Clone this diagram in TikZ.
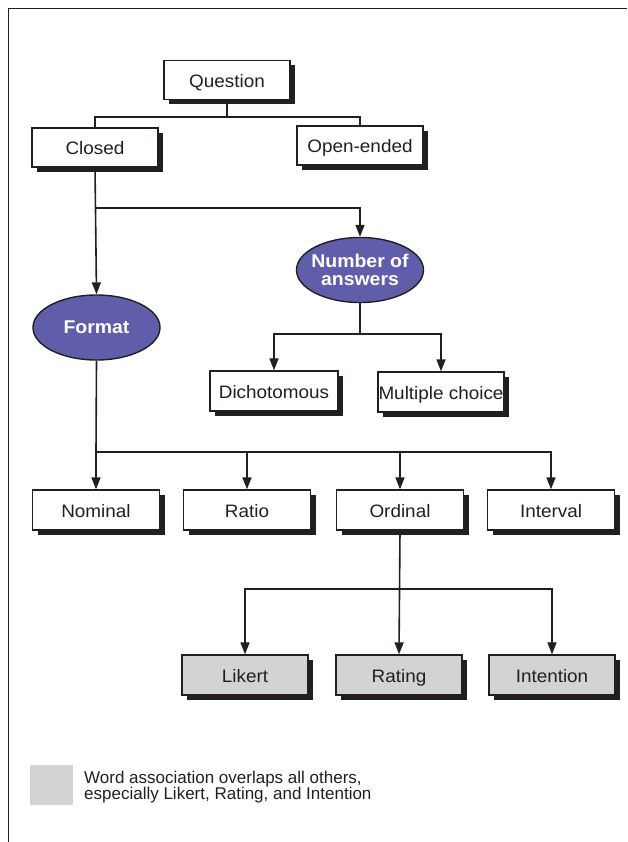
\documentclass[tikz,border=0pt]{standalone}
\usepackage{fontspec}
\setmainfont{Liberation Sans}
\newfontfamily\boxfont[FakeStretch=1.05]{Liberation Sans}
\usetikzlibrary{shapes.geometric,shadows,arrows.meta}
\definecolor{ellblue}{HTML}{605DAB}
\definecolor{boxgray}{HTML}{D3D3D3}
\definecolor{leggray}{HTML}{D1D3D4}
\definecolor{ink}{HTML}{231F20}
\begin{document}
\begin{tikzpicture}[x=1pt,y=-1pt,
 boxn/.style={rectangle, draw=ink, line width=1.4pt, fill=white, text=ink,
   minimum width=126pt, minimum height=39pt, inner sep=0pt,
   text height=15pt, text depth=0pt,
   font=\boxfont\fontsize{18}{20}\selectfont,
   drop shadow={shadow xshift=5pt, shadow yshift=-5pt, fill=ink, opacity=1}},
 grayn/.style={boxn, fill=boxgray},
 elln/.style={ellipse, draw=ink, line width=1.4pt, fill=ellblue,
   minimum width=127pt, minimum height=65pt, inner sep=0pt},
 elltext/.style={text=white, align=center, inner sep=0pt,
   font=\boxfont\fontsize{18.5}{17.5}\bfseries\selectfont},
 conn/.style={line width=1.6pt, draw=ink},
 arr/.style={conn, -{Triangle[length=12pt,width=9pt]}}
]
\useasboundingbox (0,0) rectangle (627,842);
% frame
\draw[line width=1pt, ink] (8,842) -- (8,9) -- (627,9);

% nodes
\node[boxn] (q) at (227,80) {Question};
\node[boxn] (closed) at (95,147.5) {Closed};
\node[boxn] (open) at (360,145.5) {Open-ended};
\node[elln, label={[elltext]center:Number of\\answers}] (num) at (360,270) {};
\node[elln, label={[elltext]center:Format}] (format) at (96.5,327.5) {};
\node[boxn, minimum width=128pt, minimum height=40pt] (dich) at (274,391) {Dichotomous};
\node[boxn, minimum height=40pt] (multi) at (441,392) {Multiple choice};
\node[boxn, minimum width=127pt, minimum height=40pt] (nominal) at (96,510) {Nominal};
\node[boxn, minimum width=127pt, minimum height=40pt] (ratio) at (247,510) {Ratio};
\node[boxn, minimum width=127pt, minimum height=40pt] (ordinal) at (400,510) {Ordinal};
\node[boxn, minimum width=127pt, minimum height=40pt] (interval) at (551,510) {Interval};
\node[grayn, minimum height=40pt] (likert) at (245,675) {Likert};
\node[grayn, minimum height=40pt] (rating) at (399,675) {Rating};
\node[grayn, minimum height=40pt] (intention) at (552,675) {Intention};

% junction points
\coordinate (j1) at (227,117);
\coordinate (j2) at (96,208);
\coordinate (j3) at (360,334);
\coordinate (j4) at (96,452);
\coordinate (j5) at (399,589);

% connectors
\draw[conn] (q.south) -- (j1);
\draw[conn] (closed.north) |- (j1) -| (open.north);
\draw[arr] (closed.south) -- (format.north);
\draw[arr] (j2) -| (num.north);
\draw[conn] (num.south) -- (j3);
\draw[arr] (j3) -| (dich.north);
\draw[arr] (j3) -| (multi.north);
\draw[conn] (format.south) -- (j4);
\draw[arr] (j4) -- (nominal.north);
\draw[arr] (j4) -| (ratio.north);
\draw[arr] (j4) -| (ordinal.north);
\draw[arr] (j4) -| (interval.north);
\draw[arr] (ordinal.south) -- (rating.north);
\draw[arr] (j5) -| (likert.north);
\draw[arr] (j5) -| (intention.north);

% legend
\node[fill=leggray, minimum width=43pt, minimum height=40pt, inner sep=0pt] (legbox) at (51.5,785) {};
\node[anchor=west, align=left, inner sep=0pt, text=ink,
  font=\fontsize{17}{16.5}\selectfont] (legtext) at (84,787)
  {Word association overlaps all others,\\especially Likert, Rating, and Intention};
\end{tikzpicture}
\end{document}
